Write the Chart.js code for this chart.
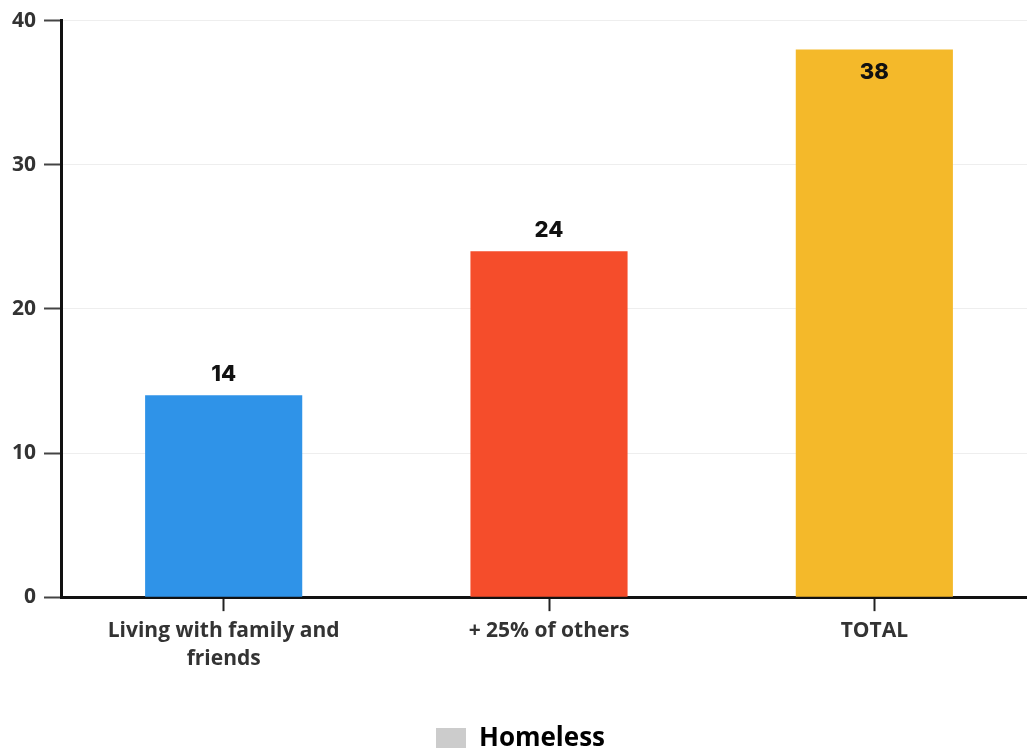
<!DOCTYPE html>
<html>
<head>
<meta charset="utf-8">
<script src="https://cdn.jsdelivr.net/npm/chart.js@4.4.1/dist/chart.umd.min.js"></script>
<style>
html,body{margin:0;padding:0;background:#fff;overflow:hidden;}
#wrap{width:1027px;height:748px;position:relative;overflow:hidden;}
#c{position:absolute;left:0;top:0;}
</style>
</head>
<body>
<div id="wrap"><canvas id="c" width="1037" height="748"></canvas></div>
<script>
const categories = [["Living with family and", "friends"], "+ 25% of others", "TOTAL"];
const seriesName = "Homeless";
const values = [14, 24, 38];
const barColors = ["#2f93e8", "#f54d2b", "#f4b92a"];
const yTicks = [0, 10, 20, 30, 40];

const valueLabels = {
  id: 'valueLabels',
  afterDatasetsDraw(chart) {
    const ctx = chart.ctx;
    const meta = chart.getDatasetMeta(0);
    ctx.save();
    ctx.font = '800 22px Inter, "Open Sans", sans-serif';
    ctx.fillStyle = '#111';
    ctx.textAlign = 'center';
    ctx.textBaseline = 'middle';
    meta.data.forEach((bar, i) => {
      const v = chart.data.datasets[0].data[i];
      let y = bar.y - 21;
      if (y - 12 < chart.chartArea.top) y = bar.y + 23;
      ctx.fillText(String(v), bar.x, y);
    });
    ctx.restore();
  }
};

const shiftLegend = {
  id: 'shiftLegend',
  afterLayout(chart) {
    if (chart.legend) {
      chart.legend.top += 14;
      chart.legend.bottom += 14;
    }
  }
};

new Chart(document.getElementById('c'), {
  type: 'bar',
  data: {
    labels: categories,
    datasets: [{
      label: seriesName,
      data: values,
      backgroundColor: barColors,
      barPercentage: 0.6,
      categoryPercentage: 0.805
    }]
  },
  options: {
    responsive: false,
    animation: false,
    layout: { padding: { top: 4, right: 0, left: 4, bottom: 0 } },
    plugins: {
      tooltip: { enabled: false },
      legend: {
        position: 'bottom',
        labels: {
          color: '#111',
          font: { family: '"Open Sans", sans-serif', size: 26, weight: 'bold' },
          boxWidth: 30,
          boxHeight: 22,
          padding: 33,
          generateLabels: (chart) => [{
            text: seriesName,
            fillStyle: '#cccccc',
            strokeStyle: '#cccccc',
            lineWidth: 0,
            datasetIndex: 0
          }]
        }
      }
    },
    scales: {
      x: {
        offset: true,
        grid: {
          offset: false,
          drawOnChartArea: false,
          drawTicks: true,
          tickLength: 14,
          tickColor: '#222',
          tickWidth: 2
        },
        border: { color: '#111', width: 3 },
        ticks: {
          color: '#333',
          padding: 6,
          font: { family: '"Open Sans", sans-serif', size: 21, weight: 'bold', lineHeight: 1.33 }
        }
      },
      y: {
        min: 0,
        max: 40,
        afterBuildTicks: (axis) => { axis.ticks = yTicks.map(v => ({ value: v })); },
        grid: {
          color: '#eeeeee',
          lineWidth: 1,
          tickColor: '#444',
          tickLength: 17,
          tickWidth: 2
        },
        border: { color: '#111', width: 3 },
        ticks: {
          color: '#333',
          padding: 8,
          font: { family: '"Open Sans", sans-serif', size: 21, weight: 'bold' }
        }
      }
    }
  },
  plugins: [valueLabels, shiftLegend]
});
</script>
</body>
</html>
